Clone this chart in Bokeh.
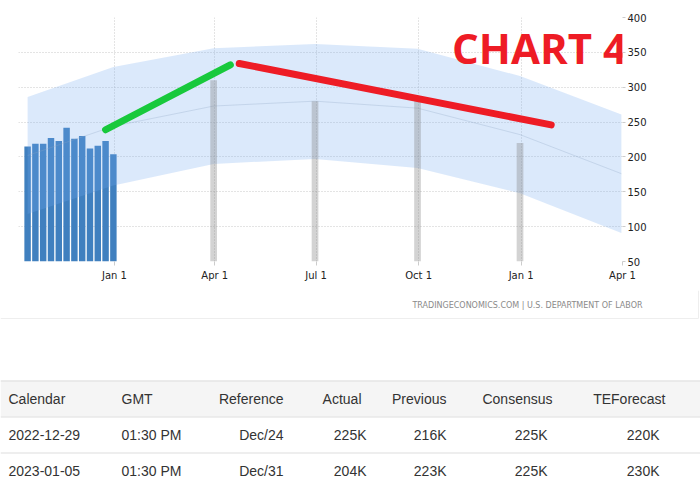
import pandas as pd
from bokeh.plotting import figure
from bokeh.layouts import column
from bokeh.models import Range1d, FixedTicker, CustomJSTickFormatter, Label
from bokeh.embed import file_html
from bokeh.resources import INLINE
from bokeh.core.properties import value

# ---------------- data ----------------
week_dates = ["2022-10-15", "2022-10-22", "2022-10-29", "2022-11-05", "2022-11-12", "2022-11-19",
              "2022-11-26", "2022-12-03", "2022-12-10", "2022-12-17", "2022-12-24", "2022-12-31"]
claims = [215, 219, 219, 227, 223, 242, 226, 230, 212, 216, 223, 204]

forecast_dates = ["2023-03-31", "2023-06-30", "2023-09-30", "2023-12-31"]
forecast_vals = [310, 280, 285, 220]

band_dates = ["2022-10-15", "2022-12-31", "2023-03-31", "2023-06-30", "2023-09-30", "2023-12-31", "2024-03-31"]
band_upper = [286, 329, 356, 362, 355, 316, 261]
band_lower = [118, 159, 190, 197, 184, 148, 91]
band_mid = [202, 244, 273, 280, 270, 232, 176]

green_dates = ["2022-12-24", "2023-04-15"]
green_vals = [239, 332]
red_dates = ["2023-04-23", "2024-01-28"]
red_vals = [334, 246]

tick_dates = ["2023-01-01", "2023-04-01", "2023-07-01", "2023-10-01", "2024-01-01", "2024-04-01"]
y_ticks = [50, 100, 150, 200, 250, 300, 350, 400]

title_text = "CHART 4"
source_text = "TRADINGECONOMICS.COM | U.S. DEPARTMENT OF LABOR"

table_headers = ["Calendar", "GMT", "Reference", "Actual", "Previous", "Consensus", "TEForecast"]
table_row1 = ["2022-12-29", "01:30 PM", "Dec/24", "225K", "216K", "225K", "220K"]
table_row2 = ["2023-01-05", "01:30 PM", "Dec/31", "204K", "223K", "225K", "230K"]

# ---------------- helpers ----------------
def dt(lst):
    return pd.to_datetime(lst)

def ms(s):
    return pd.Timestamp(s).value // 10**6

DAY = 86400000

# ---------------- chart ----------------
p = figure(width=700, height=290, x_axis_type="datetime", y_axis_location="right",
           x_range=Range1d(pd.Timestamp("2022-10-06 20:00"), pd.Timestamp("2024-04-01")),
           y_range=Range1d(50, 400), title=None,
           output_backend="svg", toolbar_location=None,
           min_border_left=18, min_border_right=78, min_border_top=17, min_border_bottom=29)
p.frame_align = False
p.outline_line_color = None
p.background_fill_color = "white"
p.border_fill_color = "white"

p.xaxis.ticker = FixedTicker(ticks=[ms(d) for d in tick_dates])
p.xaxis.formatter = CustomJSTickFormatter(code="""
const m = ["Jan","Feb","Mar","Apr","May","Jun","Jul","Aug","Sep","Oct","Nov","Dec"];
const d = new Date(tick);
return m[d.getUTCMonth()] + " " + d.getUTCDate();
""")
p.yaxis.ticker = FixedTicker(ticks=y_ticks)
for ax in (p.xaxis[0], p.yaxis[0]):
    ax.axis_line_color = None
    ax.major_tick_line_color = "#cccccc"
    ax.minor_tick_line_color = None
    ax.major_tick_in = 0
    ax.major_label_text_font = "DejaVu Sans"
    ax.major_label_text_color = "#222222"
p.xaxis.major_tick_out = 4
p.xaxis.major_label_standoff = 4
p.xaxis.major_label_text_font_size = "10px"
p.yaxis.major_tick_out = 3
p.yaxis.major_label_standoff = 2
p.yaxis.major_label_text_font_size = "10px"

p.xgrid.grid_line_color = "#c8c8c8"
p.xgrid.grid_line_dash = "1 2"
p.ygrid.grid_line_color = "#c8c8c8"
p.ygrid.grid_line_dash = "1 2"

p.vbar(x=dt(week_dates), top=claims, bottom=50, width=5.8 * DAY,
       fill_color="#4080bf", line_color=None)
p.varea(x=dt(band_dates), y1=band_lower, y2=band_upper, fill_color="#6fa8f0", fill_alpha=0.25)
p.line(dt(band_dates), band_mid, line_color="#8fa6c2", line_alpha=0.3, line_width=1)
p.vbar(x=dt(forecast_dates), top=forecast_vals, bottom=50, width=6 * DAY,
       fill_color="#808080", fill_alpha=0.35, line_color=None)
p.line(dt(green_dates), green_vals, line_color="#18c93c", line_width=7, line_cap="round")
p.line(dt(red_dates), red_vals, line_color="#ee1c25", line_width=7, line_cap="round")

p.add_layout(Label(x=ms("2023-10-31"), y=357, text=title_text, text_font="Open Sans",
                   text_font_style="bold", text_font_size="42px", text_color="#ee1c25",
                   text_baseline="alphabetic", text_align="left"))

# ---------------- table / footer ----------------
t = figure(width=700, height=198, x_range=Range1d(0, 700), y_range=Range1d(488, 290),
           x_axis_location=None, y_axis_location=None, title=None,
           output_backend="svg", toolbar_location=None,
           min_border=0, min_border_left=0, min_border_right=0, min_border_top=0, min_border_bottom=0)
t.frame_align = False
t.grid.visible = False
t.outline_line_color = None
t.background_fill_color = "white"
t.border_fill_color = "white"

t.text(x=[642], y=[305], text=[source_text], text_font=value("DejaVu Sans"),
       text_font_size="8px", text_color="#8a8a8a", text_align="right", text_baseline="middle")
t.segment(x0=[0], x1=[698], y0=[318], y1=[318], line_color="#eeeeee", line_width=1)
t.segment(x0=[698], x1=[698], y0=[290], y1=[318], line_color="#eeeeee", line_width=1)

t.quad(left=[0], right=[700], top=[380], bottom=[416], fill_color="#f5f5f5", line_color=None)
t.segment(x0=[0, 0, 0], x1=[700, 700, 700], y0=[380.5, 416.5, 452.5], y1=[380.5, 416.5, 452.5],
          line_color="#dddddd", line_width=1)

head_x = [8, 121, 283, 361, 446, 552, 665]
row_x = [8, 121, 283, 366, 446, 547, 659]
aligns = ["left", "left", "right", "right", "right", "right", "right"]
for rows, xs, yy in ((table_headers, head_x, 398), (table_row1, row_x, 434), (table_row2, row_x, 470)):
    for al in ("left", "right"):
        idx = [i for i in range(len(rows)) if aligns[i] == al]
        t.text(x=[xs[i] for i in idx], y=[yy] * len(idx), text=[rows[i] for i in idx],
               text_font=value("Liberation Sans"), text_font_size="14px", text_color="#333333",
               text_align=al, text_baseline="middle")

layout = column(p, t, spacing=0)
open("out.html", "w").write(file_html(layout, INLINE))
